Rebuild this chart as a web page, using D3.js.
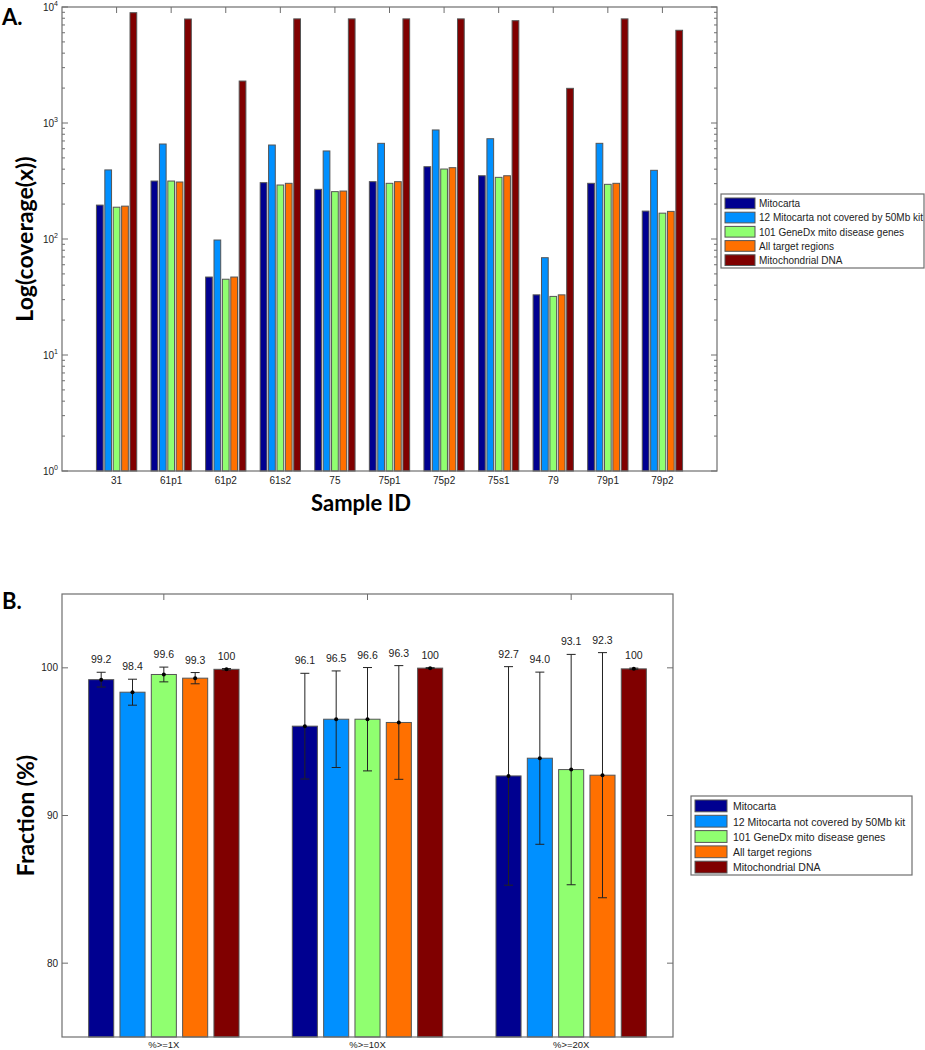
<!DOCTYPE html>
<html>
<head>
<meta charset="utf-8">
<script src="https://cdn.jsdelivr.net/npm/d3@7"></script>
<style>
  body { margin: 0; background: #fff; }
  svg text { font-family: "Liberation Sans", Arial, sans-serif; }
  .big { font-family: Lato, "Open Sans", sans-serif !important; font-weight: 700; }
</style>
</head>
<body>
<div id="main"></div>
<script>
// ---- data ----
var seriesNames = ["Mitocarta", "12 Mitocarta not covered by 50Mb kit", "101 GeneDx mito disease genes", "All target regions", "Mitochondrial DNA"];
var seriesColors = ["#000090", "#0090ff", "#90ff70", "#ff7000", "#800000"];

// panel A: mean coverage per sample
var samples = ["31", "61p1", "61p2", "61s2", "75", "75p1", "75p2", "75s1", "79", "79p1", "79p2"];
var covMitocarta = [196, 316, 47, 306, 268, 312, 420, 351, 33, 302, 174];
var covMito12    = [394, 659, 98, 646, 574, 668, 871, 732, 69, 668, 391];
var covGeneDx    = [188, 316, 45, 292, 256, 302, 401, 340, 32, 296, 167];
var covAllTarget = [192, 310, 47, 302, 259, 312, 412, 351, 33, 302, 173];
var covMtDNA     = [8930, 7880, 2300, 7900, 7900, 7900, 7900, 7620, 1990, 7900, 6300];
var logTicks = [1, 10, 100, 1000, 10000];

// panel B: fraction of bases covered at threshold, mean and sd
var thresholds = ["%>=1X", "%>=10X", "%>=20X"];
var fracMitocarta = [99.2, 96.05, 92.68];
var fracMito12    = [98.35, 96.52, 93.88];
var fracGeneDx    = [99.55, 96.52, 93.11];
var fracAllTarget = [99.3, 96.3, 92.73];
var fracMtDNA     = [99.9, 99.98, 99.93];
var sdMitocarta = [0.5, 3.58, 7.4];
var sdMito12    = [0.88, 3.27, 5.83];
var sdGeneDx    = [0.5, 3.5, 7.8];
var sdAllTarget = [0.38, 3.85, 8.3];
var sdMtDNA     = [0.05, 0.03, 0.05];
var fracLabels = [["99.2", "96.1", "92.7"], ["98.4", "96.5", "94.0"], ["99.6", "96.6", "93.1"], ["99.3", "96.3", "92.3"], ["100", "100", "100"]];
var fracTicks = [80, 90, 100];

var covSeries = [covMitocarta, covMito12, covGeneDx, covAllTarget, covMtDNA];
var fracSeries = [fracMitocarta, fracMito12, fracGeneDx, fracAllTarget, fracMtDNA];
var sdSeries = [sdMitocarta, sdMito12, sdGeneDx, sdAllTarget, sdMtDNA];

var axisColor = "#6e6e6e";
var barStroke = "#555";
var step = 0.769 / 5;       // matlab grouped bar spacing
var barW = step * 0.8;

var svg = d3.select("#main").append("svg")
  .attr("width", 925).attr("height", 1050)
  .style("background", "#fff");

// ======= panel A =======
var A = {left: 62, right: 717, top: 7, bottom: 471};
var xA = d3.scaleLinear().domain([0, 12]).range([A.left, A.right]);
var yA = d3.scaleLog().domain([1, 10000]).range([A.bottom, A.top]);

var gA = svg.append("g");
var flatA = [];
covSeries.forEach(function(vals, s) {
  vals.forEach(function(v, i) { flatA.push({s: s, i: i, v: v}); });
});
gA.selectAll("rect.cov").data(flatA).enter().append("rect")
  .attr("class", "cov")
  .attr("x", function(d) { return xA(i2x(d.i, d.s) - barW / 2); })
  .attr("width", function() { return xA(barW) - xA(0); })
  .attr("y", function(d) { return yA(d.v); })
  .attr("height", function(d) { return yA(1) - yA(d.v); })
  .attr("fill", function(d) { return seriesColors[d.s]; })
  .attr("stroke", barStroke).attr("stroke-width", 1);

function i2x(i, s) { return i + 1 + (s - 2) * step; }

// box + ticks
drawBox(gA, A);
var minorA = [];
for (var e = 0; e < 4; e++) for (var m = 2; m < 10; m++) minorA.push(m * Math.pow(10, e));
gA.selectAll("line.minor").data(minorA).enter().append("line")
  .attr("x1", A.left).attr("x2", A.left + 3)
  .attr("y1", function(d) { return yA(d); }).attr("y2", function(d) { return yA(d); })
  .attr("stroke", axisColor);
gA.selectAll("line.minorR").data(minorA).enter().append("line")
  .attr("x1", A.right).attr("x2", A.right - 3)
  .attr("y1", function(d) { return yA(d); }).attr("y2", function(d) { return yA(d); })
  .attr("stroke", axisColor);
logTicks.forEach(function(t) {
  gA.append("line").attr("x1", A.left).attr("x2", A.left + 6).attr("y1", yA(t)).attr("y2", yA(t)).attr("stroke", axisColor);
  gA.append("line").attr("x1", A.right).attr("x2", A.right - 6).attr("y1", yA(t)).attr("y2", yA(t)).attr("stroke", axisColor);
  var lab = gA.append("text").attr("x", A.left - 4).attr("y", yA(t) + 4)
    .attr("text-anchor", "end").attr("font-size", 10).attr("fill", "#222");
  lab.append("tspan").text("10");
  lab.append("tspan").attr("dy", -5).attr("font-size", 7).text(Math.round(Math.log10(t)));
});
samples.forEach(function(s, i) {
  gA.append("line").attr("x1", xA(i + 1)).attr("x2", xA(i + 1)).attr("y1", A.top).attr("y2", A.top + 6).attr("stroke", axisColor);
  gA.append("text").attr("x", xA(i + 1)).attr("y", A.bottom + 13)
    .attr("text-anchor", "middle").attr("font-size", 10).attr("fill", "#222").text(s);
});

gA.append("text").attr("class", "big").attr("x", 2).attr("y", 25).attr("font-size", 22).text("A.");
gA.append("text").attr("class", "big")
  .attr("transform", "translate(33," + ((A.top + A.bottom) / 2) + ") rotate(-90)")
  .attr("text-anchor", "middle").attr("font-size", 23).text("Log(coverage(x))");
gA.append("text").attr("class", "big").attr("x", 361).attr("y", 511)
  .attr("text-anchor", "middle").attr("font-size", 22).text("Sample ID");

drawLegend(svg, 721, 194, 203, 74, 14.2, 10);

// ======= panel B =======
var B = {left: 62, right: 673, top: 594, bottom: 1037};
var xB = d3.scaleLinear().domain([0.5, 3.5]).range([B.left, B.right]);
var yB = d3.scaleLinear().domain([75, 105]).range([B.bottom, B.top]);
var gB = svg.append("g");
var flatB = [];
fracSeries.forEach(function(vals, s) {
  vals.forEach(function(v, i) { flatB.push({s: s, i: i, v: v, sd: sdSeries[s][i], lab: fracLabels[s][i]}); });
});
function bx(d) { return xB(d.i + 1 + (d.s - 2) * step); }

gB.selectAll("rect.frac").data(flatB).enter().append("rect")
  .attr("class", "frac")
  .attr("x", function(d) { return bx(d) - (xB(barW) - xB(0)) / 2; })
  .attr("width", function() { return xB(barW) - xB(0); })
  .attr("y", function(d) { return yB(d.v); })
  .attr("height", function(d) { return yB(75) - yB(d.v); })
  .attr("fill", function(d) { return seriesColors[d.s]; })
  .attr("stroke", barStroke).attr("stroke-width", 1);

// error bars
var eb = gB.selectAll("g.err").data(flatB).enter().append("g").attr("class", "err");
eb.append("line")
  .attr("x1", bx).attr("x2", bx)
  .attr("y1", function(d) { return yB(d.v + d.sd); })
  .attr("y2", function(d) { return yB(d.v - d.sd); })
  .attr("stroke", "#222");
eb.append("line")
  .attr("x1", function(d) { return bx(d) - 4.5; }).attr("x2", function(d) { return bx(d) + 4.5; })
  .attr("y1", function(d) { return yB(d.v + d.sd); }).attr("y2", function(d) { return yB(d.v + d.sd); })
  .attr("stroke", "#222");
eb.append("line")
  .attr("x1", function(d) { return bx(d) - 4.5; }).attr("x2", function(d) { return bx(d) + 4.5; })
  .attr("y1", function(d) { return yB(d.v - d.sd); }).attr("y2", function(d) { return yB(d.v - d.sd); })
  .attr("stroke", "#222");
eb.append("circle").attr("cx", bx).attr("cy", function(d) { return yB(d.v); })
  .attr("r", 2).attr("fill", "#000");
eb.append("text")
  .attr("x", bx).attr("y", function(d) { return yB(d.v + d.sd) - 9; })
  .attr("text-anchor", "middle").attr("font-size", 10.5).attr("fill", "#222")
  .text(function(d) { return d.lab; });

drawBox(gB, B);
fracTicks.forEach(function(t) {
  gB.append("line").attr("x1", B.left).attr("x2", B.left + 6).attr("y1", yB(t)).attr("y2", yB(t)).attr("stroke", axisColor);
  gB.append("line").attr("x1", B.right).attr("x2", B.right - 6).attr("y1", yB(t)).attr("y2", yB(t)).attr("stroke", axisColor);
  gB.append("text").attr("x", B.left - 4).attr("y", yB(t) + 3.5)
    .attr("text-anchor", "end").attr("font-size", 10).attr("fill", "#222").text(t);
});
thresholds.forEach(function(t, i) {
  gB.append("line").attr("x1", xB(i + 1)).attr("x2", xB(i + 1)).attr("y1", B.top).attr("y2", B.top + 6).attr("stroke", axisColor);
  gB.append("text").attr("x", xB(i + 1)).attr("y", B.bottom + 10.5)
    .attr("text-anchor", "middle").attr("font-size", 9.5).attr("fill", "#222").text(t);
});

gB.append("text").attr("class", "big").attr("x", 2).attr("y", 609).attr("font-size", 22).text("B.");
gB.append("text").attr("class", "big")
  .attr("transform", "translate(34," + ((B.top + B.bottom) / 2) + ") rotate(-90)")
  .attr("text-anchor", "middle").attr("font-size", 23).text("Fraction (%)");

drawLegend(svg, 691, 796, 221, 79, 15.3, 10.5);

function drawBox(g, r) {
  g.append("rect").attr("x", r.left).attr("y", r.top)
    .attr("width", r.right - r.left).attr("height", r.bottom - r.top)
    .attr("fill", "none").attr("stroke", axisColor).attr("stroke-width", 1.2);
}

function drawLegend(g, x, y, w, h, rowH, fs) {
  var lg = g.append("g").attr("transform", "translate(" + x + "," + y + ")");
  lg.append("rect").attr("width", w).attr("height", h)
    .attr("fill", "#fff").attr("stroke", axisColor).attr("stroke-width", 1.2);
  var rows = lg.selectAll("g.row").data(seriesNames).enter().append("g")
    .attr("transform", function(d, i) { return "translate(4," + (4 + i * rowH) + ")"; });
  rows.append("rect").attr("width", rowH > 15 ? 32 : 30).attr("height", rowH - 3.5)
    .attr("fill", function(d, i) { return seriesColors[i]; })
    .attr("stroke", barStroke);
  rows.append("text").attr("x", rowH > 15 ? 38 : 34).attr("y", rowH - 5)
    .attr("font-size", fs).attr("fill", "#222").text(function(d) { return d; });
}
</script>
</body>
</html>
